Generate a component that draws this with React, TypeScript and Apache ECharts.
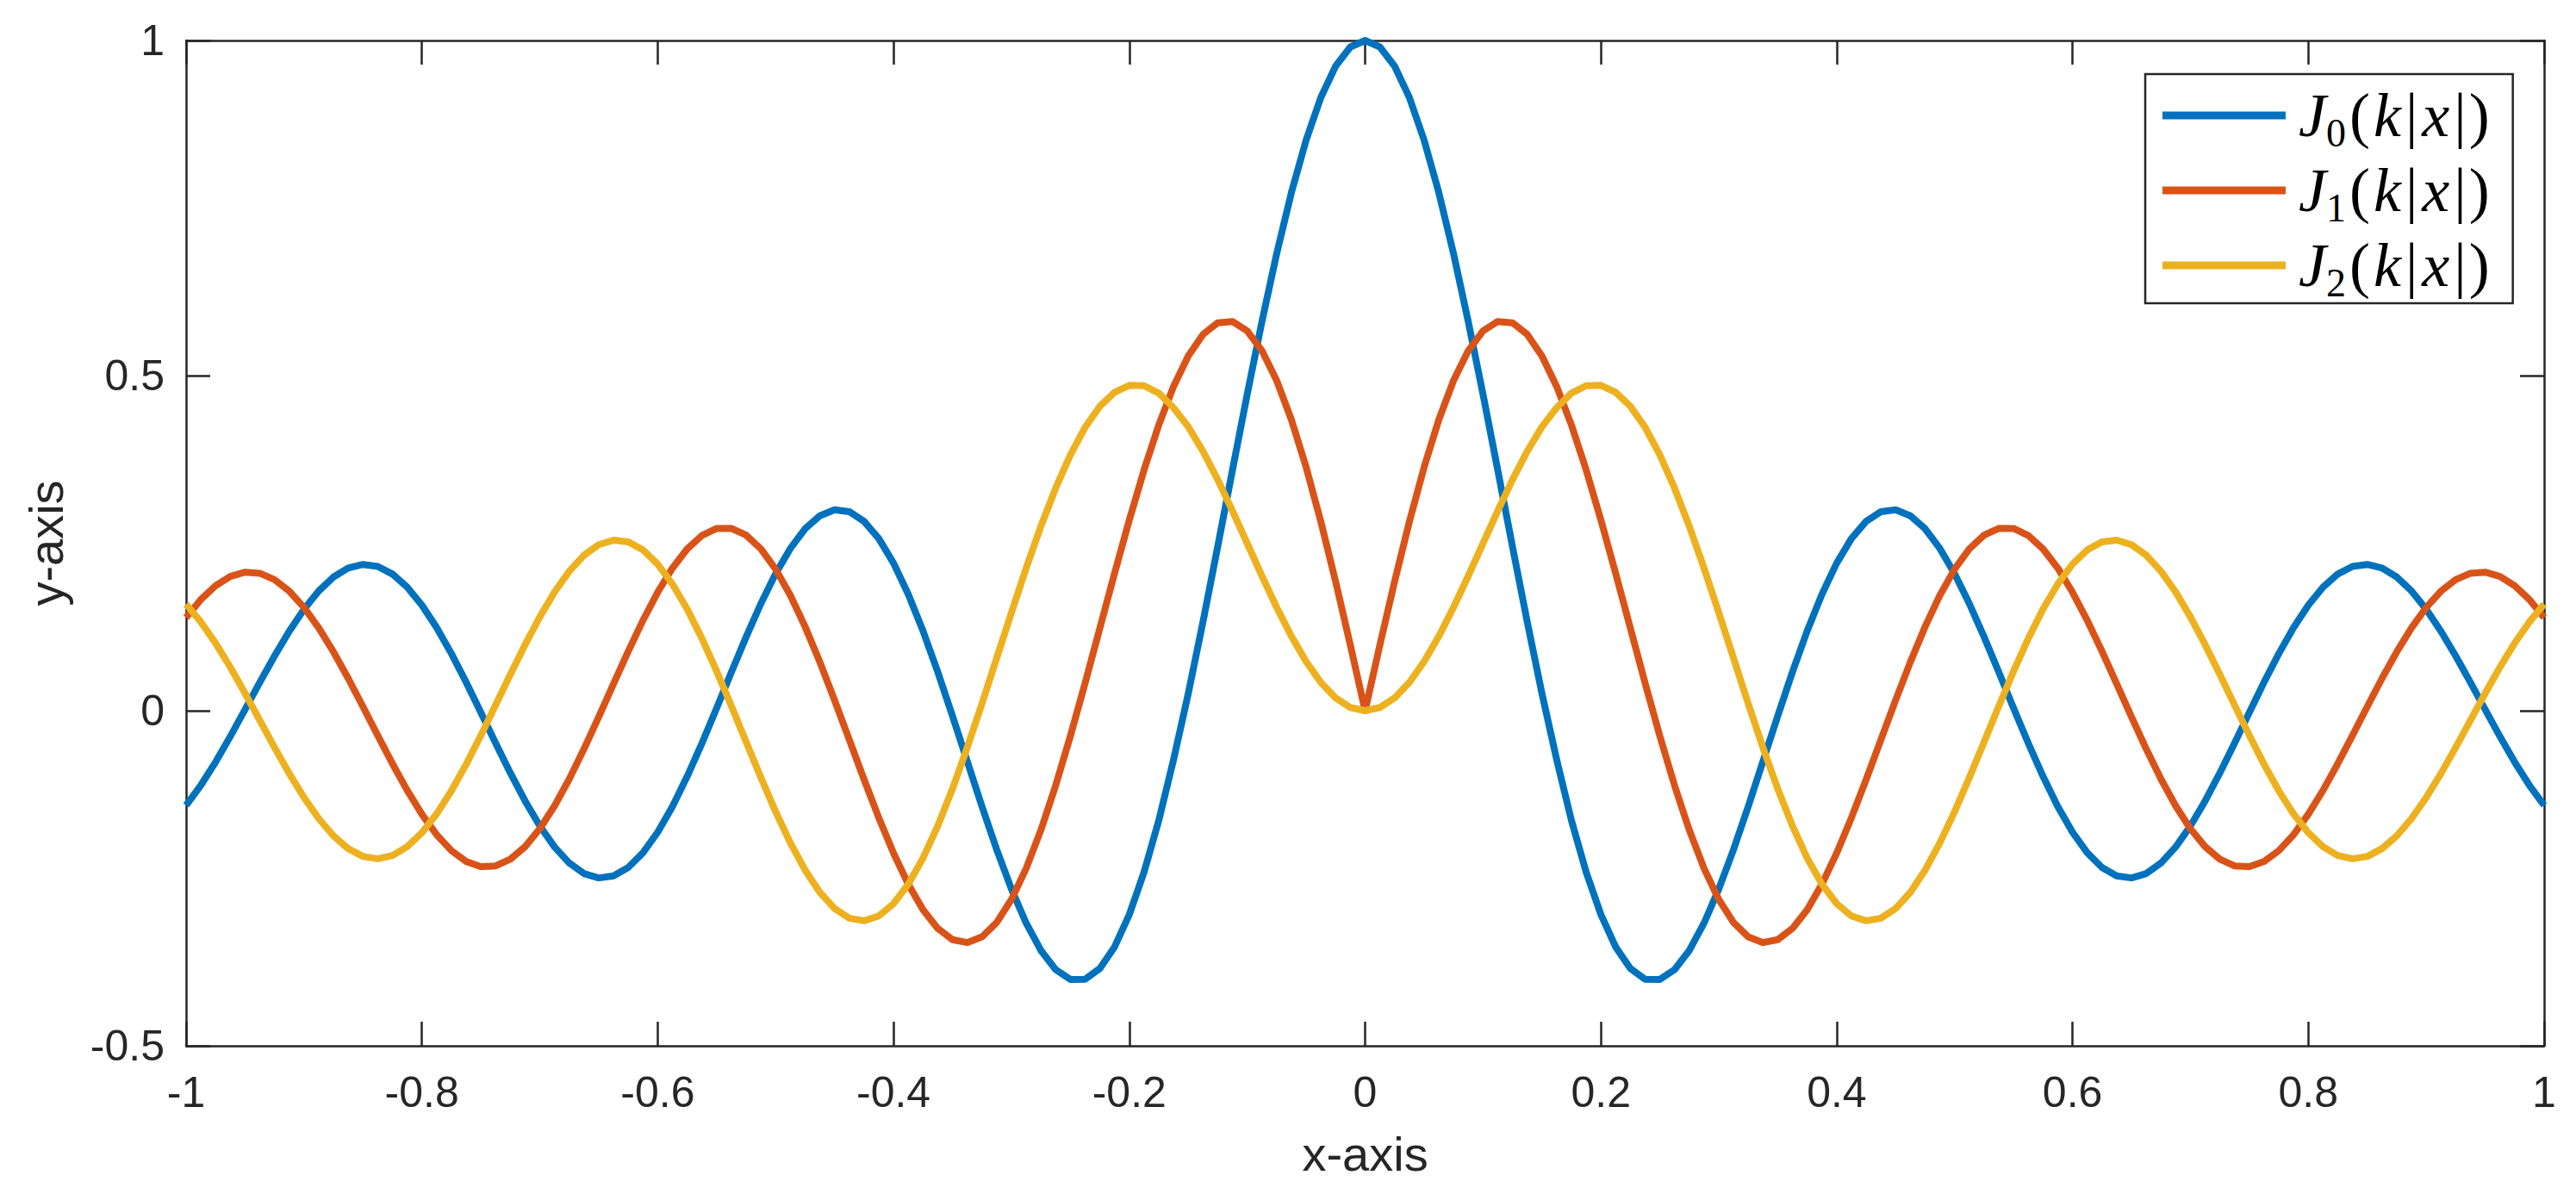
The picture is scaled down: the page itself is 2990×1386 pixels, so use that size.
import React, { useEffect, useRef } from "react";
import * as echarts from "echarts";

// x positions (x-axis values), step 0.0125
const xs = [
  -1, -0.9875, -0.975, -0.9625, -0.95, -0.9375, -0.925, -0.9125,
  -0.9, -0.8875, -0.875, -0.8625, -0.85, -0.8375, -0.825, -0.8125,
  -0.8, -0.7875, -0.775, -0.7625, -0.75, -0.7375, -0.725, -0.7125,
  -0.7, -0.6875, -0.675, -0.6625, -0.65, -0.6375, -0.625, -0.6125,
  -0.6, -0.5875, -0.575, -0.5625, -0.55, -0.5375, -0.525, -0.5125,
  -0.5, -0.4875, -0.475, -0.4625, -0.45, -0.4375, -0.425, -0.4125,
  -0.4, -0.3875, -0.375, -0.3625, -0.35, -0.3375, -0.325, -0.3125,
  -0.3, -0.2875, -0.275, -0.2625, -0.25, -0.2375, -0.225, -0.2125,
  -0.2, -0.1875, -0.175, -0.1625, -0.15, -0.1375, -0.125, -0.1125,
  -0.1, -0.0875, -0.075, -0.0625, -0.05, -0.0375, -0.025, -0.0125,
  0,
  0.0125, 0.025, 0.0375, 0.05, 0.0625, 0.075, 0.0875, 0.1,
  0.1125, 0.125, 0.1375, 0.15, 0.1625, 0.175, 0.1875, 0.2,
  0.2125, 0.225, 0.2375, 0.25, 0.2625, 0.275, 0.2875, 0.3,
  0.3125, 0.325, 0.3375, 0.35, 0.3625, 0.375, 0.3875, 0.4,
  0.4125, 0.425, 0.4375, 0.45, 0.4625, 0.475, 0.4875, 0.5,
  0.5125, 0.525, 0.5375, 0.55, 0.5625, 0.575, 0.5875, 0.6,
  0.6125, 0.625, 0.6375, 0.65, 0.6625, 0.675, 0.6875, 0.7,
  0.7125, 0.725, 0.7375, 0.75, 0.7625, 0.775, 0.7875, 0.8,
  0.8125, 0.825, 0.8375, 0.85, 0.8625, 0.875, 0.8875, 0.9,
  0.9125, 0.925, 0.9375, 0.95, 0.9625, 0.975, 0.9875, 1,
];

// J0(k|x|)
const j0 = [
  -0.1412, -0.1112, -0.0765, -0.0384, 0.0017, 0.0423, 0.0817, 0.1186, 0.1513, 0.1787,
  0.1995, 0.2129, 0.2183, 0.2153, 0.2039, 0.1844, 0.1575, 0.1241, 0.0853, 0.0426,
  -0.0025, -0.0482, -0.0928, -0.1346, -0.172, -0.2033, -0.2273, -0.243, -0.2495, -0.2465,
  -0.2339, -0.2119, -0.1812, -0.1429, -0.0981, -0.0486, 0.0039, 0.0575, 0.1101, 0.1597,
  0.2043, 0.242, 0.2714, 0.2909, 0.2997, 0.297, 0.2827, 0.2569, 0.2203, 0.1739,
  0.1192, 0.058, -0.0076, -0.0753, -0.1426, -0.207, -0.2659, -0.3168, -0.3576, -0.3862,
  -0.4009, -0.4007, -0.3846, -0.3524, -0.3042, -0.2409, -0.1637, -0.0732, 0.0255, 0.1328,
  0.245, 0.3591, 0.472, 0.5806, 0.682, 0.7732, 0.8516, 0.9151, 0.9618, 0.9904,
  1.0,
  0.9904, 0.9618, 0.9151, 0.8516, 0.7732, 0.682, 0.5806, 0.472, 0.3591, 0.245,
  0.1328, 0.0255, -0.0732, -0.1637, -0.2409, -0.3042, -0.3524, -0.3846, -0.4007, -0.4009,
  -0.3862, -0.3576, -0.3168, -0.2659, -0.207, -0.1426, -0.0753, -0.0076, 0.058, 0.1192,
  0.1739, 0.2203, 0.2569, 0.2827, 0.297, 0.2997, 0.2909, 0.2714, 0.242, 0.2043,
  0.1597, 0.1101, 0.0575, 0.0039, -0.0486, -0.0981, -0.1429, -0.1812, -0.2119, -0.2339,
  -0.2465, -0.2495, -0.243, -0.2273, -0.2033, -0.172, -0.1346, -0.0928, -0.0482, -0.0025,
  0.0426, 0.0853, 0.1241, 0.1575, 0.1844, 0.2039, 0.2153, 0.2183, 0.2129, 0.1995,
  0.1787, 0.1513, 0.1186, 0.0817, 0.0423, 0.0017, -0.0384, -0.0765, -0.1112, -0.1412,
];

// J1(k|x|)
const j1 = [
  0.139, 0.1658, 0.1865, 0.2004, 0.2067, 0.2051, 0.1956, 0.1784, 0.1541, 0.1236,
  0.0878, 0.0482, 0.0061, -0.0368, -0.079, -0.1187, -0.1545, -0.185, -0.2087, -0.2249,
  -0.2327, -0.2316, -0.2216, -0.2029, -0.1761, -0.142, -0.1019, -0.057, -0.0091, 0.04,
  0.0886, 0.1348, 0.1767, 0.2128, 0.2414, 0.2614, 0.2719, 0.2721, 0.2619, 0.2415,
  0.2113, 0.1722, 0.1255, 0.0728, 0.0158, -0.0433, -0.1025, -0.1596, -0.2124, -0.2587,
  -0.2968, -0.3248, -0.3416, -0.346, -0.3375, -0.316, -0.2817, -0.2354, -0.1782, -0.1117,
  -0.0379, 0.0412, 0.123, 0.205, 0.2846, 0.3592, 0.4263, 0.4837, 0.5292, 0.5614,
  0.5788, 0.5807, 0.5668, 0.5372, 0.4926, 0.4341, 0.3632, 0.2819, 0.1926, 0.0977,
  0.0,
  0.0977, 0.1926, 0.2819, 0.3632, 0.4341, 0.4926, 0.5372, 0.5668, 0.5807, 0.5788,
  0.5614, 0.5292, 0.4837, 0.4263, 0.3592, 0.2846, 0.205, 0.123, 0.0412, -0.0379,
  -0.1117, -0.1782, -0.2354, -0.2817, -0.316, -0.3375, -0.346, -0.3416, -0.3248, -0.2968,
  -0.2587, -0.2124, -0.1596, -0.1025, -0.0433, 0.0158, 0.0728, 0.1255, 0.1722, 0.2113,
  0.2415, 0.2619, 0.2721, 0.2719, 0.2614, 0.2414, 0.2128, 0.1767, 0.1348, 0.0886,
  0.04, -0.0091, -0.057, -0.1019, -0.142, -0.1761, -0.2029, -0.2216, -0.2316, -0.2327,
  -0.2249, -0.2087, -0.185, -0.1545, -0.1187, -0.079, -0.0368, 0.0061, 0.0482, 0.0878,
  0.1236, 0.1541, 0.1784, 0.1956, 0.2051, 0.2067, 0.2004, 0.1865, 0.1658, 0.139,
];

// J2(k|x|)
const j2 = [
  0.1589, 0.1325, 0.1008, 0.0649, 0.026, -0.0144, -0.0548, -0.0937, -0.1295, -0.161,
  -0.1867, -0.2058, -0.2174, -0.2209, -0.2161, -0.203, -0.1821, -0.154, -0.1196, -0.0802,
  -0.037, 0.0082, 0.0539, 0.0984, 0.1399, 0.177, 0.2081, 0.232, 0.2477, 0.2545,
  0.2519, 0.2399, 0.2187, 0.189, 0.1516, 0.1078, 0.059, 0.007, -0.0466, -0.0997,
  -0.1505, -0.1971, -0.2377, -0.2709, -0.2952, -0.3096, -0.3134, -0.3062, -0.2879, -0.2589,
  -0.22, -0.1721, -0.1167, -0.0552, 0.0104, 0.0783, 0.1463, 0.2126, 0.2751, 0.332,
  0.3817, 0.4228, 0.4542, 0.4752, 0.4854, 0.4849, 0.4739, 0.4521, 0.4237, 0.387,
  0.3446, 0.2982, 0.2497, 0.2011, 0.1543, 0.1111, 0.0732, 0.0421, 0.019, 0.0048,
  0.0,
  0.0048, 0.019, 0.0421, 0.0732, 0.1111, 0.1543, 0.2011, 0.2497, 0.2982, 0.3446,
  0.387, 0.4237, 0.4521, 0.4739, 0.4849, 0.4854, 0.4752, 0.4542, 0.4228, 0.3817,
  0.332, 0.2751, 0.2126, 0.1463, 0.0783, 0.0104, -0.0552, -0.1167, -0.1721, -0.22,
  -0.2589, -0.2879, -0.3062, -0.3134, -0.3096, -0.2952, -0.2709, -0.2377, -0.1971, -0.1505,
  -0.0997, -0.0466, 0.007, 0.059, 0.1078, 0.1516, 0.189, 0.2187, 0.2399, 0.2519,
  0.2545, 0.2477, 0.232, 0.2081, 0.177, 0.1399, 0.0984, 0.0539, 0.0082, -0.037,
  -0.0802, -0.1196, -0.154, -0.1821, -0.203, -0.2161, -0.2209, -0.2174, -0.2058, -0.1867,
  -0.161, -0.1295, -0.0937, -0.0548, -0.0144, 0.026, 0.0649, 0.1008, 0.1325, 0.1589,
];

const seriesNames = ["J0", "J1", "J2"];
const seriesColors = ["#0072BD", "#D95319", "#EDB120"];
const legendLabels: Record<string, string> = {
  J0: "{J|J}{s|0}{p|(}{i|k}{b||}{i|x}{b||}{p|)}",
  J1: "{J|J}{s|1}{p|(}{i|k}{b||}{i|x}{b||}{p|)}",
  J2: "{J|J}{s|2}{p|(}{i|k}{b||}{i|x}{b||}{p|)}",
};
const xTickMin = -1;
const xTickMax = 1;
const xTickStep = 0.2;
const yTickMin = -0.5;
const yTickMax = 1;
const yTickStep = 0.5;

const AXIS_COLOR = "#262626";

export default function App() {
  const ref = useRef<HTMLDivElement>(null);

  useEffect(() => {
    if (!ref.current) return;
    const chart = echarts.init(ref.current, null, { renderer: "svg" });

    const pts = (ys: number[]) => xs.map((x, i) => [x, ys[i]]);

    const lineSeries = (name: string, color: string, data: number[][]) => ({
      name,
      type: "line",
      data,
      smooth: false,
      showSymbol: false,
      symbol: "none",
      color,
      itemStyle: { color },
      lineStyle: { color, width: 8, cap: "butt", join: "round" },
      emphasis: { disabled: true },
      xAxisIndex: 0,
      yAxisIndex: 0,
      z: 3,
    });

    const fmt = (v: number) => String(Math.round(v * 10) / 10);

    const axisCommon = {
      axisLine: { show: true, onZero: false, lineStyle: { color: AXIS_COLOR, width: 2.5 } },
      axisTick: { show: true, inside: true, length: 28, lineStyle: { color: AXIS_COLOR, width: 2.5 } },
      splitLine: { show: false },
    };

    const labelStyle = {
      fontFamily: "Liberation Sans",
      fontSize: 50,
      color: AXIS_COLOR,
    };

    const serif = "Liberation Serif";
    const main = 72;
    const lh = 72;

    const option: any = {
      animation: false,
      backgroundColor: "#ffffff",
      grid: { left: 216, top: 47, width: 2737, height: 1167, containLabel: false },
      xAxis: [
        {
          type: "value",
          position: "bottom",
          min: xTickMin,
          max: xTickMax,
          interval: xTickStep,
          ...axisCommon,
          axisLabel: { ...labelStyle, margin: 29, formatter: fmt, showMinLabel: true, showMaxLabel: true },
          name: "x-axis",
          nameLocation: "middle",
          nameGap: 97,
          nameTextStyle: { fontFamily: "Liberation Sans", fontSize: 56, color: AXIS_COLOR },
        },
        {
          type: "value",
          position: "top",
          min: xTickMin,
          max: xTickMax,
          interval: xTickStep,
          ...axisCommon,
          axisLabel: { show: false },
        },
      ],
      yAxis: [
        {
          type: "value",
          position: "left",
          min: yTickMin,
          max: yTickMax,
          interval: yTickStep,
          ...axisCommon,
          axisLabel: { ...labelStyle, margin: 25, formatter: fmt, showMinLabel: true, showMaxLabel: true },
          name: "y-axis",
          nameLocation: "middle",
          nameGap: 135,
          nameTextStyle: { fontFamily: "Liberation Sans", fontSize: 56, color: AXIS_COLOR },
        },
        {
          type: "value",
          position: "right",
          min: yTickMin,
          max: yTickMax,
          interval: yTickStep,
          ...axisCommon,
          axisLabel: { show: false },
        },
      ],
      legend: {
        show: true,
        orient: "vertical",
        left: 2490,
        top: 86,
        data: seriesNames,
        icon: "rect",
        itemWidth: 143,
        itemHeight: 9,
        itemGap: 1,
        padding: [5, 26, 1, 20],
        borderColor: AXIS_COLOR,
        borderWidth: 2.5,
        backgroundColor: "#ffffff",
        selectedMode: false,
        itemStyle: { borderWidth: 0 },
        formatter: (name: string) => legendLabels[name],
        textStyle: {
          color: "#000000",
          lineHeight: lh,
          rich: {
            J: { fontFamily: serif, fontStyle: "italic", fontSize: main, lineHeight: lh, color: "#000", padding: [0, 0, 0, 10] },
            s: { fontFamily: serif, fontSize: 46, lineHeight: lh, color: "#000", padding: [40, 3, 0, 0] },
            p: { fontFamily: serif, fontSize: main, lineHeight: lh, color: "#000", padding: [0, 1, 0, 1] },
            b: { fontFamily: serif, fontSize: main, lineHeight: lh, color: "#000", padding: [0, 2, 0, 2] },
            i: { fontFamily: serif, fontStyle: "italic", fontSize: main, lineHeight: lh, color: "#000", padding: [0, 3, 0, 3] },
          },
        },
      },
      series: [
        lineSeries("J0", seriesColors[0], pts(j0)),
        lineSeries("J1", seriesColors[1], pts(j1)),
        lineSeries("J2", seriesColors[2], pts(j2)),
      ],
    };

    chart.setOption(option);
    return () => chart.dispose();
  }, []);

  return (
    <div
      ref={ref}
      style={{ position: "absolute", left: 0, top: 0, width: 2990, height: 1386, background: "#fff" }}
    />
  );
}
